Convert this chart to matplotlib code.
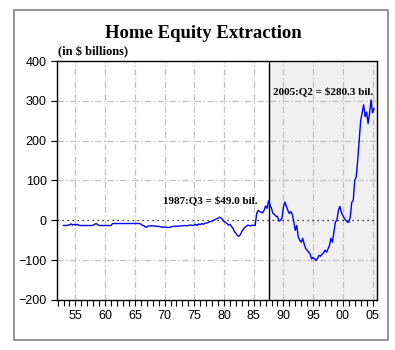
import matplotlib
matplotlib.use('Agg')
import matplotlib.pyplot as plt
import matplotlib.ticker as ticker
from matplotlib.patches import Rectangle

# quarterly home equity extraction, $ billions, 1953:Q1 - 2005:Q2
start_year = 1953
values = [
    -13, -13, -13, -12,   # 1953
    -11, -9, -12, -10,    # 1954
    -12, -10, -12, -13,   # 1955
    -13, -13, -13, -13,   # 1956
    -13, -13, -13, -13,   # 1957
    -12, -10, -8, -11,    # 1958
    -13, -13, -13, -13,   # 1959
    -13, -13, -13, -13,   # 1960
    -13, -8, -8, -8,      # 1961
    -8, -8, -8, -8,       # 1962
    -8, -8, -8, -8,       # 1963
    -8, -8, -8, -8,       # 1964
    -8, -8, -8, -8,       # 1965
    -9, -13, -13, -17,    # 1966
    -17, -14, -14, -14,   # 1967
    -14, -14, -15, -15,   # 1968
    -15, -16, -17, -17,   # 1969
    -17, -17, -18, -18,   # 1970
    -17, -16, -15, -15,   # 1971
    -15, -15, -14, -14,   # 1972
    -14, -13, -13, -14,   # 1973
    -13, -12, -12, -13,   # 1974
    -12, -10, -13, -9,    # 1975
    -11, -8, -10, -8,     # 1976
    -7, -6, -4, -3,       # 1977
    -2, 0, 2, 4,          # 1978
    5, 8, 6, 2,           # 1979
    -3, -5, -8, -12,      # 1980
    -10, -15, -20, -28,   # 1981
    -32, -38, -40, -36,   # 1982
    -28, -22, -18, -15,   # 1983
    -12, -13, -14, -12,   # 1984
    -13, -13, 17, 25,     # 1985
    22, 20, 19, 25,       # 1986
    36, 30, 49.0, 38,     # 1987
    30, 17, 15, 10,       # 1988
    10, -2, 0, 5,         # 1989
    33, 46, 35, 25,       # 1990
    17, 22, 15, -4,       # 1991
    -25, -13, -42, -50,   # 1992
    -55, -45, -60, -71,   # 1993
    -75, -80, -85, -97,   # 1994
    -93, -97, -101, -95,  # 1995
    -88, -90, -85, -82,   # 1996
    -75, -80, -72, -63,   # 1997
    -45, -55, -29, -4,    # 1998
    0, 25, 35, 20,        # 1999
    12, 5, 0, -4,         # 2000
    -5, 8, 45, 50,        # 2001
    100, 109, 150, 200,   # 2002
    250, 270, 290, 260,   # 2003
    272, 243, 269, 302,   # 2004
    270, 280.3,           # 2005
]
shade_start = 1987.5
tick_years = [1955, 1960, 1965, 1970, 1975, 1980, 1985, 1990, 1995, 2000, 2005]
tick_labels = ['55', '60', '65', '70', '75', '80', '85', '90', '95', '00', '05']
y_ticks = [-200, -100, 0, 100, 200, 300, 400]

serif = ['Liberation Serif', 'DejaVu Serif']
sans = ['Liberation Sans', 'DejaVu Sans']

dates = [start_year + i / 4 for i in range(len(values))]

fig = plt.figure(figsize=(3.95, 3.5), dpi=100)
fig.patches.append(Rectangle((14 / 395, 1 - 340 / 350), 374 / 395, 330 / 350,
                             transform=fig.transFigure, fill=False,
                             edgecolor='#8c8c8c', linewidth=1.3))
ax = fig.add_axes([57 / 395, 1 - 300 / 350, 320 / 395, 239 / 350])

ax.set_xlim(1951.9, 2005.75)
ax.set_ylim(-200, 400)
ax.axvspan(shade_start, 2005.75, color='#f0f0f0', zorder=0)

grid_style = (0, (5, 2, 1, 2))
for y in [-100, 100, 200, 300]:
    ax.axhline(y, color='#c0c0c0', lw=0.9, ls=grid_style, zorder=1)
for x in tick_years:
    ax.axvline(x, color='#c0c0c0', lw=0.9, ls=grid_style, zorder=1)
ax.axhline(0, color='black', lw=0.9, ls=(0, (1, 3)), zorder=2)
ax.axvline(shade_start, color='black', lw=1.0, zorder=3)

ax.plot(dates, values, color='#0000ff', lw=1.0, zorder=4)

ax.set_yticks(y_ticks)
ax.set_xticks(tick_years)
ax.set_xticklabels(tick_labels)
ax.xaxis.set_minor_locator(ticker.MultipleLocator(1))
ax.tick_params(axis='both', which='both', direction='out', length=4,
               width=0.8, labelsize=9)
ax.tick_params(axis='x', which='both', top=False)
ax.tick_params(axis='y', right=False)
for lab in ax.get_xticklabels() + ax.get_yticklabels():
    lab.set_family(sans)
for s in ax.spines.values():
    s.set_linewidth(1.0)

ax.text(1985.7, 50, '1987:Q3 = $49.0 bil.', ha='right', va='center',
        family=serif, fontweight='bold', fontsize=8)
ax.text(2005.2, 325, '2005:Q2 = $280.3 bil.', ha='right', va='center',
        family=serif, fontweight='bold', fontsize=8)

fig.text(203 / 395, 1 - 33 / 350, 'Home Equity Extraction', ha='center',
         va='center', family=serif, fontweight='bold', fontsize=13.5)
fig.text(58 / 395, 1 - 52 / 350, '(in $ billions)', ha='left', va='center',
         family=serif, fontweight='bold', fontsize=9)

fig.savefig('out.png', dpi=100)
plt.close()
